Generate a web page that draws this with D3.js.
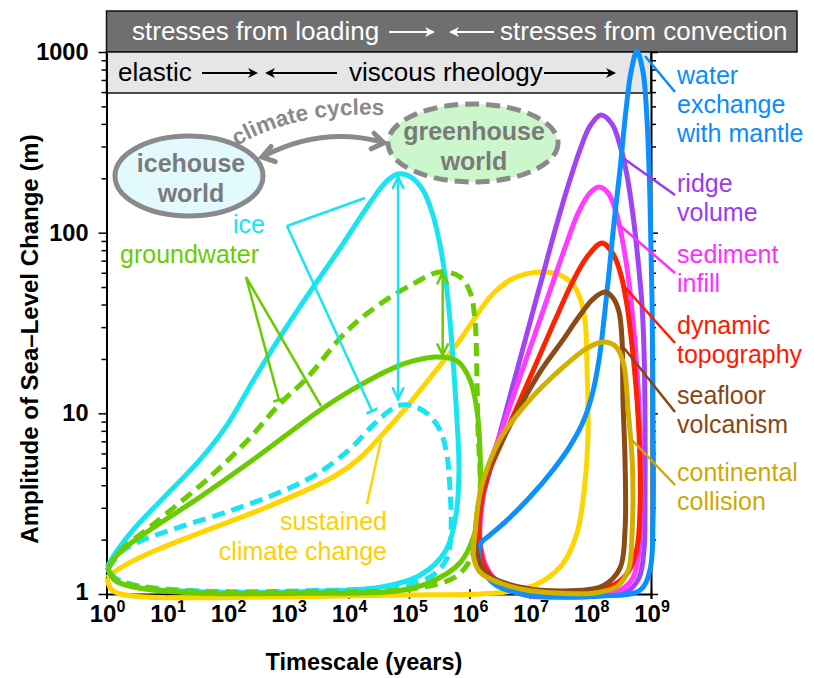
<!DOCTYPE html>
<html><head><meta charset="utf-8">
<script src="https://cdn.jsdelivr.net/npm/d3@7"></script>
<style>
body{margin:0;background:#fff;}
svg{display:block;font-family:"Liberation Sans",Arial,Helvetica,sans-serif;}
</style>
</head><body>
<svg id="chart" width="814" height="678"></svg>
<script>
// ---------------- DATA: [timescale (years), amplitude (m)] ----------------
const xTickExponents = [0,1,2,3,4,5,6,7,8,9];
const yTickValues = [1,10,100,1000];

const iceSolid = [[1.02,1.41],[1.55,1.77],[2.74,2.26],[10,3.57],[35,5.52],[98,8.6],[264,15.1],[738,26.5],[1770,41.3],[7240,82],[22600,146],[41700,191],[65800,211],[108000,203],[170000,172],[249000,125],[338000,80],[442000,42.4],[534000,19.7],[621000,9.2],[670000,4.85],[598000,2.74],[393000,1.71],[152000,1.27],[33200,1.09],[1580,1.03],[35,1.03],[3.58,1.08],[1.38,1.19],[1.02,1.41]];
const iceDashed = [[1.06,1.37],[1.67,1.69],[3.58,1.96],[18.4,2.38],[123,2.92],[826,3.72],[3010,4.61],[10600,6.35],[25400,8.61],[48500,10.4],[71000,11.1],[116000,11.0],[206000,9.9],[325000,8.09],[424000,5.88],[476000,3.77],[495000,2.26],[424000,1.58],[240000,1.26],[71000,1.11],[1580,1.04],[35,1.04],[2.96,1.12],[1.38,1.23],[1.06,1.37]];
const groundSolid = [[1.06,1.39],[1.67,1.71],[5.2,2.26],[35,3.44],[235,5.38],[1210,8.09],[3380,10.4],[11900,13.6],[54400,17.8],[117000,19.5],[290000,20.5],[620000,19.5],[1.02e6,15.3],[1.33e6,10.4],[1.49e6,6.3],[1.49e6,3.3],[1.18e6,2.1],[700000,1.49],[222000,1.16],[63000,1.04],[1580,1.01],[35,1.01],[2.96,1.09],[1.38,1.19],[1.06,1.39]];
const groundDashed = [[1.06,1.39],[1.67,1.73],[5.24,2.35],[51,4.44],[210,7.03],[738,11.3],[2060,15.7],[9440,28.6],[33200,40.3],[116000,52],[325000,60.6],[697000,56.9],[1.02e6,47],[1.23e6,32.9],[1.33e6,15.3],[1.38e6,8.09],[1.49e6,4.85],[1.49e6,3.11],[1.33e6,2.12],[1.02e6,1.54],[576000,1.24],[116000,1.07],[1580,1.03],[35,1.03],[2.96,1.11],[1.38,1.21],[1.06,1.39]];
const sustained = [[1.02,1.23],[1.67,1.39],[5.24,1.69],[35,2.18],[450,3.03],[5540,4.44],[15500,5.66],[33200,7.4],[71000,9.8],[222000,15.7],[697000,25.5],[2.18e6,44],[4.67e6,54.7],[8.26e6,59],[1.64e7,60.6],[3.13e7,58.3],[4.94e7,52.6],[6.7e7,43.5],[8.1e7,32.9],[8.75e7,18.1],[9.1e7,7.78],[8.1e7,4.11],[6.0e7,2.18],[3.38e7,1.45],[1.21e7,1.12],[4.17e6,1.03],[1.49e6,1.0],[71000,0.987],[450,0.962],[2.74,0.975],[1.23,1.05],[1.02,1.23]];

const ridgeVolume = [[2.18e6,4.86],[3.58e6,8.95],[5.87e6,16.5],[9.62e6,30.4],[1.58e7,56.1],[2.59e7,103],[4.25e7,181],[6.7e7,287],[9.8e7,389],[1.49e8,448],[2.27e8,399],[3.07e8,305],[4.01e8,208],[5.04e8,125],[6.1e8,70.6],[7.1e8,39.8],[7.66e8,22.4],[7.96e8,9.19],[7.96e8,3.31],[7.66e8,1.75],[6.34e8,1.23],[4.17e8,1.04],[1.44e8,0.975],[3.13e7,0.962],[1.0e7,0.975],[3.86e6,1.08],[1.8e6,1.36],[1.38e6,1.99],[1.55e6,3.11]];
const sedimentInfill = [[2.02e6,4.86],[3.19e6,7.59],[5.24e6,12.3],[8.91e6,20.5],[1.46e7,32.9],[2.4e7,53.3],[3.94e7,85.5],[6.21e7,128],[9.8e7,166],[1.38e8,179],[1.95e8,166],[2.64e8,130],[3.32e8,93.3],[4.17e8,58.3],[5.04e8,32.9],[5.87e8,17.4],[6.58e8,8.09],[6.84e8,3.31],[6.34e8,1.75],[5.04e8,1.23],[3.07e8,1.05],[6.7e7,0.99],[1.0e7,1.0],[3.86e6,1.09],[1.95e6,1.39],[1.49e6,1.99],[1.61e6,3.11]];
const dynamicTopo = [[2.02e6,4.56],[3.86e6,7.59],[7.38e6,12.5],[1.41e7,20.5],[2.69e7,33.7],[4.94e7,52.6],[8.75e7,73.3],[1.55e8,87.7],[2.36e8,76.2],[3.19e8,58.3],[4.01e8,39.8],[4.85e8,23.9],[5.87e8,11.9],[6.58e8,5.52],[6.58e8,2.92],[5.87e8,1.80],[4.17e8,1.32],[2.36e8,1.12],[4.58e7,1.03],[6.84e6,1.04],[2.85e6,1.16],[1.74e6,1.45],[1.44e6,2.12],[1.55e6,3.11]];
const seafloorVolc = [[1.8e6,4.39],[3.19e6,6.68],[6.34e6,10.4],[1.46e7,16.9],[3.51e7,25.5],[6.21e7,33.7],[1.1e8,42.9],[1.74e8,46.9],[2.36e8,43.5],[2.96e8,36.4],[3.32e8,25.5],[3.44e8,11.9],[3.72e8,5.52],[3.72e8,2.26],[3.07e8,1.39],[1.61e8,1.11],[3.13e7,1.04],[4.17e6,1.14],[1.74e6,1.34],[1.28e6,1.80],[1.33e6,2.74]];
const contCollision = [[1.7e6,4.3],[3.2e6,7.2],[9.1e6,11.5],[3.2e7,17.5],[8.7e7,22.9],[1.6e8,24.8],[2.6e8,23.5],[3.5e8,19],[4.2e8,10.2],[4.9e8,5.4],[4.9e8,2.3],[4.2e8,1.35],[2.75e8,1.1],[1.1e8,1.01],[3.2e7,1.01],[9.1e6,1.05],[3.2e6,1.15],[1.5e6,1.32],[1.17e6,1.6],[1.26e6,2.3],[1.4e6,3.2]];
const mantleExchange = [[2.18e6,2.12],[3.86e6,2.5],[1.0e7,3.44],[2.4e7,4.86],[4.58e7,6.59],[7.52e7,8.95],[1.06e8,12.6],[1.38e8,19.7],[1.67e8,32.9],[2.02e8,59.8],[2.44e8,113],[3.07e8,222],[3.86e8,477],[4.67e8,775],[5.87e8,1013],[7.38e8,775],[8.59e8,420],[9.62e8,152],[1.04e9,42.4],[1.08e9,9.19],[1.08e9,2.57],[9.62e8,1.36],[6.58e8,1.05],[1.44e8,0.975],[1.0e7,0.987],[2.85e6,1.11],[1.74e6,1.32],[1.44e6,1.62],[1.55e6,1.92]];

// annotation arrows (data coords): [time, from amplitude, to amplitude]
const iceArrow = [6.6e4, 203, 12.0];
const gwArrow = [3.6e5, 60, 21];

// ---------------- SETUP ----------------
const svg = d3.select("#chart");
const FONT = '"Liberation Sans",Arial,Helvetica,sans-serif';
const x = d3.scaleLog().domain([1,1e9]).range([106.5,651]);
const y = d3.scaleLog().domain([1,1000]).range([594,52]);

// top bands
const bands = svg.append("g");
bands.append("rect").attr("x",106.5).attr("y",11).attr("width",797-106.5).attr("height",41)
  .attr("fill","#6f6f6f").attr("stroke","#111").attr("stroke-width",1.5);
bands.append("rect").attr("x",106.5).attr("y",52).attr("width",651-106.5).attr("height",41)
  .attr("fill","#e6e6e6").attr("stroke","#111").attr("stroke-width",1.5);

function bandArrow(g, x1, x2, yy, color, dir){
  const tip = dir>0 ? x2 : x1;
  const base = dir>0 ? x2-10 : x1+10;
  g.append("line").attr("x1", dir>0?x1:x1+6).attr("x2", dir>0?x2-6:x2).attr("y1",yy).attr("y2",yy)
    .attr("stroke",color).attr("stroke-width",2);
  g.append("path").attr("d",`M${tip},${yy} L${base},${yy-5} L${base+(dir>0?3:-3)},${yy} L${base},${yy+5} Z`)
    .attr("fill",color);
}
const bandText = (xx,yy,s,color)=> bands.append("text").attr("x",xx).attr("y",yy).attr("font-size",26)
  .attr("fill",color).attr("font-family",FONT).text(s);
bandText(132,40,"stresses from loading","#fff");
bandArrow(bands,389,435,32,"#fff",1);
bandArrow(bands,449,494,32,"#fff",-1);
bandText(500,40,"stresses from convection","#fff");
bandText(118,81,"elastic","#000");
bandArrow(bands,202,258,73,"#000",1);
bandArrow(bands,265,337,73,"#000",-1);
bandText(349,81,"viscous rheology","#000");
bandArrow(bands,544,616,73,"#000",1);

// ---------------- AXES ----------------
const isMajor = d => yTickValues.includes(d);
const gy = svg.append("g").attr("transform",`translate(${x.range()[0]},0)`)
  .call(d3.axisLeft(y).tickValues(y.ticks()).tickSizeOuter(0).tickFormat(d=> isMajor(d)? String(d) : ""));
gy.select(".domain").attr("stroke","#000").attr("stroke-width",2);
gy.selectAll(".tick line").attr("x2", d=> isMajor(d)? -8 : -5).attr("stroke-width",1.5);
gy.selectAll(".tick text").attr("x",-18).attr("dy", d=> d===1 ? "0.22em" : "0.32em")
  .attr("font-size",23.5).attr("font-weight","bold").attr("font-family",FONT).attr("fill","#000");

const gyr = svg.append("g").attr("transform",`translate(${x.range()[1]},0)`)
  .call(d3.axisRight(y).tickValues(y.ticks()).tickSizeOuter(0).tickFormat(""));
gyr.select(".domain").attr("stroke","#000").attr("stroke-width",2);
gyr.selectAll(".tick line").attr("x2", d=> isMajor(d)? 7 : 5).attr("stroke-width",1.5);

const gx = svg.append("g").attr("transform",`translate(0,${y.range()[0]})`)
  .call(d3.axisBottom(x).tickValues(xTickExponents.map(e=>Math.pow(10,e))).tickSizeOuter(0).tickSize(5).tickFormat(""));
gx.select(".domain").attr("stroke","#000").attr("stroke-width",2);
gx.selectAll(".tick line").attr("y1",-5).attr("stroke-width",1.5);
xTickExponents.forEach(e=>{
  const t = svg.append("text").attr("x",x(Math.pow(10,e))+1).attr("y",622).attr("text-anchor","middle")
    .attr("font-family",FONT).attr("font-weight","bold").attr("font-size",24).attr("fill","#000");
  t.append("tspan").text("10");
  t.append("tspan").attr("dy",-10).attr("font-size",16).text(String(e));
});

svg.append("text").attr("x",364).attr("y",670).attr("text-anchor","middle").attr("font-family",FONT)
  .attr("font-weight","bold").attr("font-size",23.5).text("Timescale (years)");
svg.append("text").attr("transform","translate(38,339) rotate(-90)").attr("text-anchor","middle").attr("font-family",FONT)
  .attr("font-weight","bold").attr("font-size",24).text("Amplitude of Sea\u2013Level Change (m)");

// ---------------- CURVES ----------------
const series = [
  {data:sustained, color:"#FFD500", dash:null, closed:false},
  {data:iceSolid, color:"#18E4F2", dash:null, closed:false},
  {data:iceDashed, color:"#18E4F2", dash:"13 7", closed:false},
  {data:groundDashed, color:"#6ACC00", dash:"13 7", closed:false},
  {data:groundSolid, color:"#6ACC00", dash:null, closed:false},
  {data:ridgeVolume, color:"#A045F5", dash:null, closed:true},
  {data:sedimentInfill, color:"#FF3CFF", dash:null, closed:true},
  {data:dynamicTopo, color:"#FF2200", dash:null, closed:true},
  {data:mantleExchange, color:"#0A90FF", dash:null, closed:true},
  {data:seafloorVolc, color:"#8C4A14", dash:null, closed:true},
  {data:contCollision, color:"#D2B000", dash:null, closed:true}
];
const gCurves = svg.append("g");
series.forEach(s=>{
  const ln = d3.line().x(d=>x(d[0])).y(d=>y(d[1]))
    .curve(s.closed ? d3.curveCatmullRomClosed.alpha(0.5) : d3.curveCatmullRom.alpha(0.5));
  gCurves.append("path").attr("d",ln(s.data)).attr("fill","none").attr("stroke",s.color)
    .attr("stroke-width",5).attr("stroke-linejoin","round").attr("stroke-linecap","butt")
    .attr("stroke-dasharray",s.dash);
});

// ---------------- ANNOTATIONS ----------------
const ann = svg.append("g");
function vHead(tx,ty,ang,len,spread,color,w){
  const a1=ang+Math.PI-spread, a2=ang+Math.PI+spread;
  ann.append("path").attr("d",`M${tx+len*Math.cos(a1)},${ty+len*Math.sin(a1)} L${tx},${ty} L${tx+len*Math.cos(a2)},${ty+len*Math.sin(a2)}`)
    .attr("fill","none").attr("stroke",color).attr("stroke-width",w).attr("stroke-linejoin","miter").attr("stroke-linecap","round");
}
function seg(x1,y1,x2,y2,color,w){
  ann.append("line").attr("x1",x1).attr("y1",y1).attr("x2",x2).attr("y2",y2).attr("stroke",color).attr("stroke-width",w);
}
function tBar(x1,y1,x2,y2,color,w,half){
  seg(x1,y1,x2,y2,color,w);
  const dx=x2-x1, dy=y2-y1, L=Math.hypot(dx,dy), px=-dy/L*half, py=dx/L*half;
  seg(x2+px,y2+py,x2-px,y2-py,color,w);
}
function vArrow(arr,color){
  const xx=x(arr[0]), y1=y(arr[1]), y2=y(arr[2]);
  seg(xx,y1,xx,y2,color,2.5);
  vHead(xx,y1,-Math.PI/2,12,0.45,color,2.5);
  vHead(xx,y2,Math.PI/2,12,0.45,color,2.5);
}
vArrow(iceArrow,"#18E4F2");
vArrow(gwArrow,"#6ACC00");

seg(287,226,365,198,"#18E4F2",2.5);
tBar(287,226,372,411,"#18E4F2",2.5,6);
tBar(246,277,279,400,"#6ACC00",2.5,6);
seg(246,277,321,406,"#6ACC00",2.5);
seg(367,504,381,440,"#FFD500",2.5);

const txt = (xx,yy,s,color,opts={})=> ann.append("text").attr("x",xx).attr("y",yy).attr("fill",color)
  .attr("font-family",FONT).attr("font-size",opts.size||25).attr("font-weight",opts.weight||"normal")
  .attr("text-anchor",opts.anchor||"start").text(s);
txt(233,233,"ice","#18E4F2");
txt(120,263,"groundwater","#6ACC00");
txt(387,530,"sustained","#FFD000",{anchor:"end"});
txt(387,560,"climate change","#FFD000",{anchor:"end"});

const rightLabels = [
  {lines:["water","exchange","with mantle"], color:"#0A8CFF", base:84, from:[645,56], to:[675,92]},
  {lines:["ridge","volume"], color:"#9B3BF0", base:192, from:[623,158], to:[675,195]},
  {lines:["sediment","infill"], color:"#FF2EFF", base:263, from:[617,223], to:[675,273]},
  {lines:["dynamic","topography"], color:"#FF1A00", base:334, from:[623,285], to:[675,343]},
  {lines:["seafloor","volcanism"], color:"#8A4513", base:404, from:[624,348], to:[675,412]},
  {lines:["continental","collision"], color:"#CDAA00", base:481, from:[632,440], to:[675,485]}
];
rightLabels.forEach(r=>{
  seg(r.from[0],r.from[1],r.to[0],r.to[1],r.color,2.5);
  r.lines.forEach((l,i)=> txt(677, r.base + i*29, l, r.color));
});

ann.append("ellipse").attr("cx",189).attr("cy",176).attr("rx",74).attr("ry",40)
  .attr("fill","#E2FAFD").attr("stroke","#8a8a8a").attr("stroke-width",5);
txt(191,172,"icehouse","#7a7a7a",{anchor:"middle",weight:"bold",size:25});
txt(191,202,"world","#7a7a7a",{anchor:"middle",weight:"bold",size:25});
ann.append("ellipse").attr("cx",473).attr("cy",143).attr("rx",85).attr("ry",39)
  .attr("fill","#CCF6CC").attr("stroke","#8a8a8a").attr("stroke-width",5).attr("stroke-dasharray","14 7");
txt(474,140,"greenhouse","#7a7a7a",{anchor:"middle",weight:"bold",size:25});
txt(474,170,"world","#7a7a7a",{anchor:"middle",weight:"bold",size:25});

ann.append("path").attr("d","M264,156 Q322,126 382,142").attr("fill","none").attr("stroke","#8a8a8a").attr("stroke-width",5);
vHead(262,157,Math.atan2(14,-52),14,0.6,"#8a8a8a",5);
vHead(384,143,Math.atan2(8,46),14,0.6,"#8a8a8a",5);
ann.append("path").attr("id","ccPath").attr("d","M235,147 Q300,108 396,116").attr("fill","none");
ann.append("text").attr("font-family",FONT).attr("font-weight","bold").attr("font-size",22.5).attr("fill","#8a8a8a")
  .append("textPath").attr("href","#ccPath").attr("startOffset",2).text("climate cycles");
</script>
</body></html>
